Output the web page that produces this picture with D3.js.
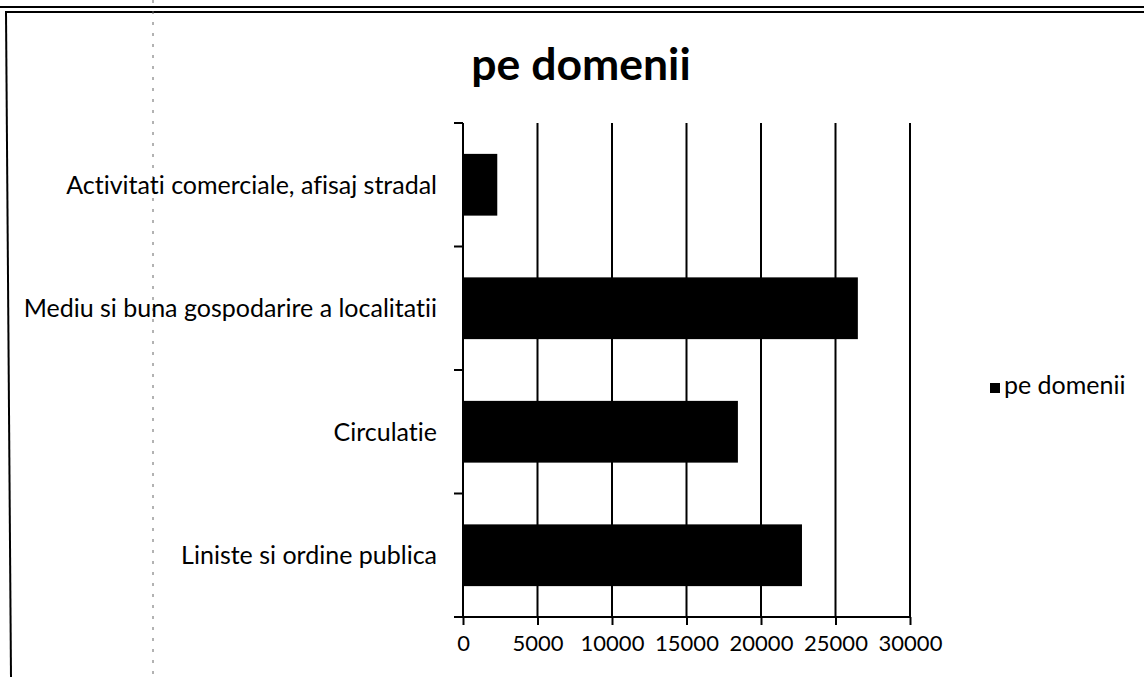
<!DOCTYPE html>
<html>
<head>
<meta charset="utf-8">
<script src="https://cdn.jsdelivr.net/npm/d3@7"></script>
<style>
  html, body { margin: 0; padding: 0; background: #fff; }
  svg { display: block; }
  text { font-family: Lato, "Open Sans", sans-serif; fill: #000; font-variant-ligatures: none; }
</style>
</head>
<body>
<svg id="chart" width="1144" height="677"></svg>
<script>
const categories = [
  "Activitati comerciale, afisaj stradal",
  "Mediu si buna gospodarire a localitatii",
  "Circulatie",
  "Liniste si ordine publica"
];
const values = [2300, 26500, 18450, 22750];
const seriesName = "pe domenii";
const titleText = "pe domenii";
const xTicks = [0, 5000, 10000, 15000, 20000, 25000, 30000];

const svg = d3.select("#chart");
const W = 1144, H = 677;
const plot = { left: 463, right: 910, top: 123, bottom: 617 };

// page frame (scanned document border)
svg.append("line").attr("x1", 0).attr("x2", W).attr("y1", 7).attr("y2", 7)
  .attr("stroke", "#000").attr("stroke-width", 2);
svg.append("line").attr("x1", 5).attr("x2", W).attr("y1", 12).attr("y2", 12)
  .attr("stroke", "#000").attr("stroke-width", 2);
svg.append("line").attr("x1", 6).attr("x2", 11).attr("y1", 12).attr("y2", H)
  .attr("stroke", "#000").attr("stroke-width", 2);
svg.append("line").attr("x1", 153).attr("x2", 153).attr("y1", 0).attr("y2", H)
  .attr("stroke", "#666").attr("stroke-width", 1).attr("stroke-dasharray", "3,8");

const x = d3.scaleLinear().domain([0, 30000]).range([plot.left, plot.right]);
const y = d3.scaleBand().domain(categories).range([plot.top, plot.bottom])
  .paddingInner(0.5).paddingOuter(0.25);

// gridlines
svg.append("g").selectAll("line").data(xTicks.slice(1)).join("line")
  .attr("x1", d => x(d)).attr("x2", d => x(d))
  .attr("y1", plot.top).attr("y2", plot.bottom)
  .attr("stroke", "#000").attr("stroke-width", 2);

// bars
svg.append("g").selectAll("rect").data(categories).join("rect")
  .attr("x", x(0))
  .attr("y", d => y(d))
  .attr("width", (d, i) => x(values[i]) - x(0))
  .attr("height", y.bandwidth())
  .attr("fill", "#000");

// x axis
const xAxis = d3.axisBottom(x).tickValues(xTicks).tickSize(8).tickPadding(10)
  .tickFormat(d3.format("d"));
const gx = svg.append("g").attr("transform", `translate(0,${plot.bottom})`).call(xAxis);
gx.select(".domain").attr("d", `M${plot.left - 6},0H${plot.right}`).attr("stroke", "#000").attr("stroke-width", 2);
gx.selectAll(".tick line").attr("stroke", "#000").attr("stroke-width", 2);
gx.selectAll(".tick text").attr("font-size", 22).attr("font-family", "Lato").attr("dy", "0.72em");

// y axis with ticks at category boundaries
const gy = svg.append("g");
gy.append("line").attr("x1", plot.left).attr("x2", plot.left)
  .attr("y1", plot.top).attr("y2", plot.bottom).attr("stroke", "#000").attr("stroke-width", 2);
const bounds = categories.map(c => y(c) - y.step() * y.paddingInner() / 2);
bounds.push(plot.bottom);
gy.selectAll("line.tk").data(bounds).join("line").attr("class", "tk")
  .attr("x1", plot.left - 9).attr("x2", plot.left)
  .attr("y1", d => d).attr("y2", d => d)
  .attr("stroke", "#000").attr("stroke-width", 2);
gy.selectAll("text").data(categories).join("text")
  .attr("x", 437)
  .attr("y", d => y(d) + y.bandwidth() / 2)
  .attr("dy", "0.35em")
  .attr("text-anchor", "end")
  .attr("font-size", 25)
  .text(d => d);

// title
svg.append("text").attr("x", 581).attr("y", 80)
  .attr("text-anchor", "middle").attr("font-size", 44.5).attr("font-weight", "bold")
  .text(titleText);

// legend
const lg = svg.append("g").attr("transform", "translate(990,383)");
lg.append("rect").attr("width", 10).attr("height", 10).attr("fill", "#000");
lg.append("text").attr("x", 14).attr("y", 11).attr("font-size", 25).text(seriesName);
</script>
</body>
</html>
